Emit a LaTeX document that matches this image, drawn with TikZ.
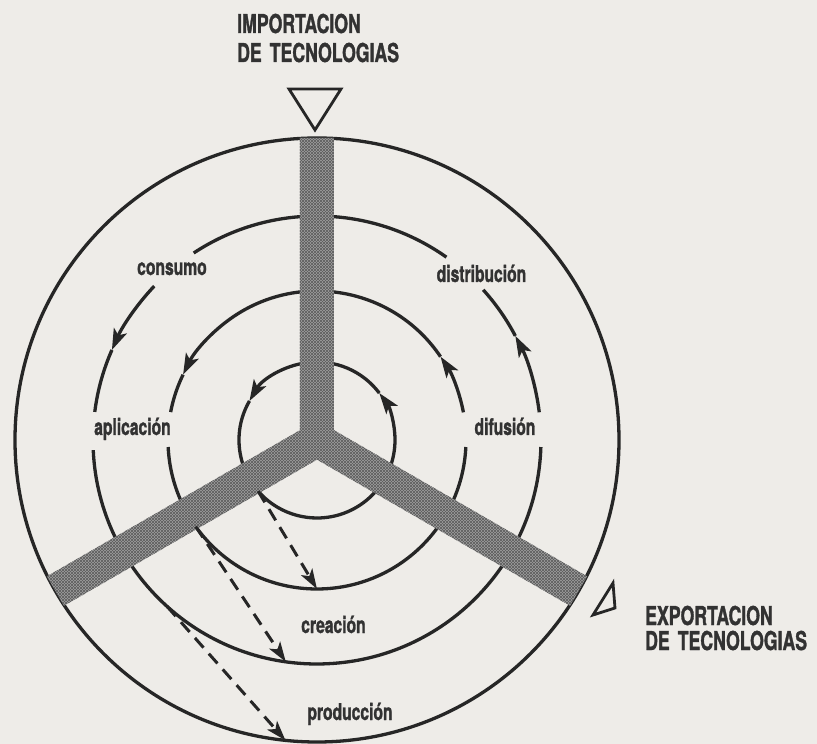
\documentclass[tikz,border=0pt]{standalone}
\usepackage{fontspec}
\newfontfamily\figfont{texgyreheros-bold.otf}[FakeStretch=0.68, FakeBold=1.2]
\usetikzlibrary{arrows.meta,patterns}
\definecolor{paper}{RGB}{238,236,232}
\definecolor{ink}{RGB}{38,38,38}
\definecolor{inktext}{RGB}{50,50,50}
\definecolor{barfill}{RGB}{160,160,160}
\definecolor{barhatch}{RGB}{92,92,92}

\begin{document}
\begin{tikzpicture}[x=1pt,y=1pt,
  ring/.style={draw=ink, line width=3.3pt},
  flow/.style={ring, -{Stealth[length=21pt,width=14pt,inset=5pt]}},
  transfer/.style={draw=ink, line width=3pt, dash pattern=on 13pt off 8pt,
    -{Stealth[length=20pt,width=13pt,inset=5pt]}},
  stage/.style={font=\figfont\fontsize{23}{27}\selectfont,
    text=inktext, inner sep=0pt, anchor=base},
  title/.style={font=\figfont\fontsize{26}{30}\selectfont,
    text=inktext, inner sep=0pt, anchor=base west},
  marker/.style={draw=ink, line width=2.8pt, line join=miter},
  band/.style={fill=barfill,
    postaction={pattern=north east lines, pattern color=barhatch},
    postaction={pattern=north west lines, pattern color=barhatch}}
]
% paper and frame (centre of the rings at the origin)
\fill[paper] (-317,-304) rectangle (500,440);
\useasboundingbox (-317,-304) rectangle (500,440);

% outer ring
\draw[ring] (0,0) circle[radius=302];

% inner ring (r = 78), counter-clockwise flow
\draw[flow] (-90:78) arc[start angle=-90, end angle=37, radius=78];
\draw[flow] (37:78) arc[start angle=37, end angle=150, radius=78];
\draw[ring] (150:78) arc[start angle=150, end angle=270, radius=78];

% third ring (r = 149)
\draw[flow] (10.7:149) arc[start angle=10.7, end angle=34, radius=149];
\draw[flow] (34:149) arc[start angle=34, end angle=154, radius=149];
\draw[ring] (154:149) arc[start angle=154, end angle=169.2, radius=149];
\draw[ring] (182.7:149) arc[start angle=182.7, end angle=357.3, radius=149];

% second ring (r = 224)
\draw[flow] (7.1:224) arc[start angle=7.1, end angle=27.7, radius=224];
\draw[ring] (27.7:224) arc[start angle=27.7, end angle=42.1, radius=224];
\draw[ring] (54.7:224) arc[start angle=54.7, end angle=123.4, radius=224];
\draw[flow] (136.6:224) arc[start angle=136.6, end angle=156.3, radius=224];
\draw[ring] (156.3:224) arc[start angle=156.3, end angle=172.8, radius=224];
\draw[ring] (182.6:224) arc[start angle=182.6, end angle=358.2, radius=224];

% the three technology bands
\path[band] (-17,302) -- (17,302) -- (17,9.81) -- (270,-136.3) -- (253,-165.7)
  -- (0,-19.63) -- (-253,-165.7) -- (-270,-136.3) -- (-17,9.81) -- cycle;

% entry and exit markers
\draw[marker] (-28,351) -- (24,351) -- (-2,310) -- cycle;
\draw[marker] (296,-143) -- (276,-175) -- (298,-168) -- cycle;

% dashed transfers between rings
\coordinate (t1s) at (221:78);
\coordinate (t1e) at (270:149);
\coordinate (t2s) at (215.5:149);
\coordinate (t2e) at (262:224);
\coordinate (t3s) at (228:224);
\coordinate (t3e) at (264:302);
\draw[transfer] (t1s) -- (t1e);
\draw[transfer] (t2s) -- (t2e);
\draw[transfer] (t3s) -- (t3e);

% stage labels
\node[stage] (consumo) at (-145,165) {consumo};
\node[stage] (distribucion) at (164.5,158) {distribución};
\node[stage] (aplicacion) at (-184.5,5) {aplicación};
\node[stage] (difusion) at (188,5) {difusión};
\node[stage] (creacion) at (16.5,-193) {creación};
\node[stage] (produccion) at (33,-280) {producción};

% titles
\node[title] (imp1) at (-80,407) {IMPORTACION};
\node[title] (imp2) at (-80,378) {DE\hspace{8pt}TECNOLOGIAS};
\node[title] (exp1) at (328,-185) {EXPORTACION};
\node[title] (exp2) at (328,-210) {DE\hspace{8pt}TECNOLOGIAS};
\end{tikzpicture}
\end{document}
